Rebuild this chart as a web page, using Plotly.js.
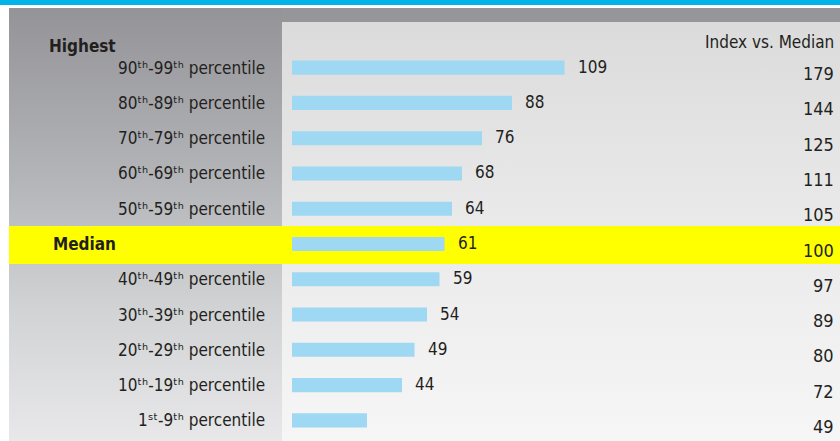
<!DOCTYPE html>
<html>
<head>
<meta charset="utf-8">
<script src="https://cdn.plot.ly/plotly-3.0.1.min.js"></script>
<style>
  html, body { margin: 0; padding: 0; background: #ffffff; }
  #wrap { position: relative; width: 840px; height: 441px; overflow: hidden; background: #ffffff; }
  #topbar { position: absolute; left: 0; top: 0; width: 840px; height: 5px; background: #00b3e8; }
  #leftpanel { position: absolute; left: 9px; top: 8px; width: 273px; height: 433px;
    background: linear-gradient(to bottom, #949498 0%, #b4b5b8 40%, #d2d3d5 70%, #e8e8ea 100%); }
  #headstrip { position: absolute; left: 282px; top: 8px; width: 558px; height: 14px; background: #95959a; }
  #rightpanel { position: absolute; left: 282px; top: 22px; width: 558px; height: 419px;
    background: linear-gradient(to bottom, #dbdbdc 0%, #e9e9ea 45%, #f6f6f6 100%); }
  #chart { position: absolute; left: 0; top: 0; width: 840px; height: 441px; }
</style>
</head>
<body>
<div id="wrap">
  <div id="topbar"></div>
  <div id="leftpanel"></div>
  <div id="headstrip"></div>
  <div id="rightpanel"></div>
  <div id="chart"></div>
</div>
<script>
// ---- data ----
const categories = [
  "90ᵗʰ-99ᵗʰ percentile",
  "80ᵗʰ-89ᵗʰ percentile",
  "70ᵗʰ-79ᵗʰ percentile",
  "60ᵗʰ-69ᵗʰ percentile",
  "50ᵗʰ-59ᵗʰ percentile",
  "Median",
  "40ᵗʰ-49ᵗʰ percentile",
  "30ᵗʰ-39ᵗʰ percentile",
  "20ᵗʰ-29ᵗʰ percentile",
  "10ᵗʰ-19ᵗʰ percentile",
  "1ˢᵗ-9ᵗʰ percentile"
];
const values = [109, 88, 76, 68, 64, 61, 59, 54, 49, 44, 30];
const valueLabels = ["109", "88", "76", "68", "64", "61", "59", "54", "49", "44", ""];
const indexVsMedian = [179, 144, 125, 111, 105, 100, 97, 89, 80, 72, 49];
const medianLabel = "Median";
const topLabel = "Highest";
const indexHeader = "Index vs. Median";

// ---- styles ----
const FONT = "'DejaVu Sans Condensed', 'Liberation Sans Narrow', 'Arial Narrow', sans-serif";
const TXT = "#231f20";
const rowIdx = categories.map((c, i) => i);

const trace = {
  type: "bar",
  orientation: "h",
  x: values,
  y: rowIdx,
  width: 0.4,
  marker: { color: "#9ed8f2", line: { width: 0 } },
  hoverinfo: "skip"
};

const annotations = [];
categories.forEach((c, i) => {
  const isMedian = c === medianLabel;
  annotations.push({
    xref: "paper", yref: "y", x: 0, y: i,
    xanchor: isMedian ? "left" : "right", yanchor: "middle",
    xshift: isMedian ? -241 : -25,
    text: isMedian ? "<b>" + c + "</b>" : c,
    showarrow: false,
    font: { family: FONT, size: 17, color: TXT }
  });
  if (valueLabels[i] !== "") {
    annotations.push({
      xref: "x", yref: "y", x: values[i], y: i,
      xanchor: "left", yanchor: "middle", xshift: 11, yshift: 1,
      text: valueLabels[i], showarrow: false,
      font: { family: FONT, size: 17, color: TXT }
    });
  }
  annotations.push({
    xref: "paper", yref: "y", x: 1, y: i,
    xanchor: "right", yanchor: "middle", xshift: -4, yshift: -6,
    text: String(indexVsMedian[i]), showarrow: false,
    font: { family: FONT, size: 18, color: TXT }
  });
});
annotations.push({
  xref: "paper", yref: "y", x: 0, y: 0,
  xanchor: "left", yanchor: "middle", xshift: -245, yshift: 22,
  text: "<b>" + topLabel + "</b>", showarrow: false,
  font: { family: FONT, size: 17, color: TXT }
});
annotations.push({
  xref: "paper", yref: "y", x: 1, y: 0,
  xanchor: "right", yanchor: "middle", xshift: -4, yshift: 26,
  text: indexHeader, showarrow: false,
  font: { family: FONT, size: 17, color: TXT }
});

const medianRow = categories.indexOf(medianLabel);
const layout = {
  width: 840, height: 441,
  margin: { l: 292, r: 0, t: 50.4, b: 3.4, pad: 0 },
  paper_bgcolor: "rgba(0,0,0,0)",
  plot_bgcolor: "rgba(0,0,0,0)",
  showlegend: false,
  xaxis: { range: [0, 219.2], visible: false, fixedrange: true },
  yaxis: { range: [categories.length - 0.5, -0.5], visible: false, fixedrange: true },
  shapes: [{
    type: "rect", layer: "below", xref: "paper", yref: "y",
    x0: -283 / 548, x1: 1, y0: medianRow - 0.51, y1: medianRow + 0.57,
    fillcolor: "#ffff00", line: { width: 0 }
  }],
  annotations: annotations
};

Plotly.newPlot("chart", [trace], layout, { displayModeBar: false });
</script>
</body>
</html>
